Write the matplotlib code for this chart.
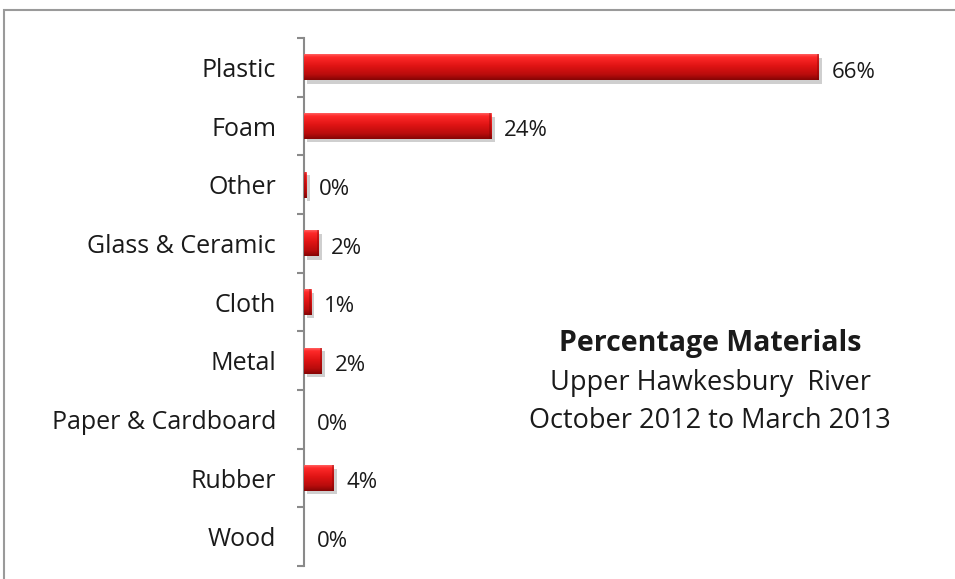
import numpy as np
import matplotlib
matplotlib.use("Agg")
import matplotlib.pyplot as plt
from matplotlib.patches import Rectangle
import matplotlib.patheffects as pe
from matplotlib.colors import LinearSegmentedColormap

categories = ["Plastic", "Foam", "Other", "Glass & Ceramic", "Cloth", "Metal",
              "Paper & Cardboard", "Rubber", "Wood"]
values = [66.0, 24.0, 0.3, 1.9, 0.9, 2.3, 0.0, 3.8, 0.0]
labels = ["66%", "24%", "0%", "2%", "1%", "2%", "0%", "4%", "0%"]
title_lines = ["Percentage Materials", "Upper Hawkesbury  River", "October 2012 to March 2013"]

plt.rcParams['font.family'] = ['Open Sans', 'DejaVu Sans']

W, H = 955, 579
fig = plt.figure(figsize=(W / 100, H / 100), dpi=100)

# outer border
fig.patches.append(Rectangle((4 / W, -0.1), 1.2, 1 - 10 / H + 0.1, transform=fig.transFigure,
                             fill=False, edgecolor="#9a9a9a", linewidth=1.5))

left, right, top, bottom = 304 / W, 945 / W, 1 - 38 / H, 1 - 566 / H
ax = fig.add_axes([left, bottom, right - left, top - bottom])
px_per_unit = 7.8
xmax = (945 - 304) / px_per_unit
n = len(categories)

cmap = LinearSegmentedColormap.from_list("bev", [
    (0.0, "#ff6060"), (0.1, "#ff2a2a"), (0.45, "#e01414"), (0.8, "#b80c0c"), (1.0, "#850505")])
grad = np.linspace(0, 1, 64).reshape(-1, 1)

bh = 0.44
bars = ax.barh(range(n), values, height=bh, color="#d01010", edgecolor="none")
for b in bars:
    if b.get_width() <= 0:
        continue
    b.set_path_effects([pe.SimplePatchShadow(offset=(2.5, -2.5), shadow_rgbFace="#777777", alpha=0.35),
                        pe.Normal()])
    x0, y0 = b.get_x(), b.get_y()
    w, h = b.get_width(), b.get_height()
    im = ax.imshow(grad, cmap=cmap, aspect="auto", extent=(x0, x0 + w, y0 + h, y0),
                   interpolation="bicubic", zorder=3)
    im.set_clip_path(b)
    ax.add_patch(Rectangle((x0 + w - min(w, 0.25), y0), min(w, 0.25), h, facecolor="#7a0404",
                           alpha=0.35, edgecolor="none", zorder=4))
ax.set_xlim(0, xmax)
ax.set_ylim(n - 0.5, -0.5)

for i, (v, lab) in enumerate(zip(values, labels)):
    ax.annotate(lab, (v, i), xytext=(9, -3.5), textcoords="offset points",
                va="center", ha="left", fontsize=16, color="#1a1a1a")

ax.set_yticks(range(n))
ax.set_yticklabels(categories, fontsize=18, color="#1a1a1a")
ax.tick_params(axis="y", which="major", length=0, pad=20)
ax.set_yticks(np.arange(-0.5, n, 1.0), minor=True)
ax.tick_params(axis="y", which="minor", length=5, width=1.5, color="#8a8a8a", direction="out")
ax.set_xticks([])
for s in ["top", "right", "bottom"]:
    ax.spines[s].set_visible(False)
ax.spines["left"].set_color("#8a8a8a")
ax.spines["left"].set_linewidth(1.5)
ax.patch.set_alpha(0)

cx = 710 / W
fig.text(cx, 1 - 343 / H, title_lines[0], ha="center", va="center", fontsize=20.5,
         fontweight="bold", color="#1a1a1a")
fig.text(cx, 1 - 383 / H, title_lines[1], ha="center", va="center", fontsize=19.5, color="#1a1a1a")
fig.text(cx, 1 - 421 / H, title_lines[2], ha="center", va="center", fontsize=19.5, color="#1a1a1a")

fig.savefig("out.png", dpi=100)
